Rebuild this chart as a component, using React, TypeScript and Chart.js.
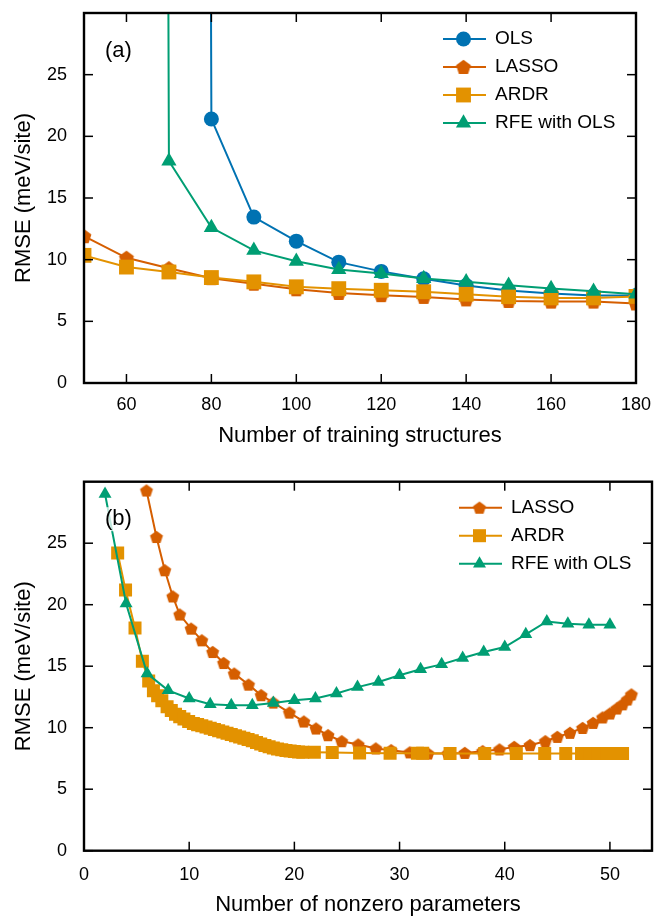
import React, { useEffect, useRef } from 'react';
import { Chart, registerables } from 'chart.js';

Chart.register(...registerables);

const FONT = "'Liberation Sans', Arial, Helvetica, sans-serif";
const C_OLS = '#0072B2';
const C_LASSO = '#D55E00';
const C_ARDR = '#E39200';
const C_RFE = '#009E73';

// ---------- panel (a): RMSE vs number of training structures ----------
const trainSizes = [50, 60, 70, 80, 90, 100, 110, 120, 130, 140, 150, 160, 170, 180];
const olsTrain = [null, null, 1000, 21.4, 13.45, 11.5, 9.8, 9.05, 8.45, 7.9, 7.5, 7.25, 7.1, 7.1];
const lassoTrain = [11.9, 10.15, 9.3, 8.5, 8.05, 7.6, 7.3, 7.12, 6.98, 6.78, 6.65, 6.6, 6.6, 6.45];
const ardrTrain = [10.35, 9.4, 9.0, 8.55, 8.2, 7.8, 7.65, 7.52, 7.4, 7.2, 7.0, 6.9, 6.9, 7.02];
const rfeTrain = [null, 1000, 18.0, 12.6, 10.75, 9.87, 9.2, 8.87, 8.47, 8.2, 7.93, 7.66, 7.44, 7.2];

// ---------- panel (b): RMSE vs number of nonzero parameters ----------
const lassoN = [5.94, 6.89, 7.68, 8.44, 9.1, 10.18, 11.2, 12.23, 13.27, 14.28, 15.64, 16.84, 18.0, 19.53, 20.9, 22.06, 23.2, 24.5, 26.07, 27.74, 29.2, 30.97, 32.7, 34.6, 36.2, 37.9, 39.5, 40.9, 42.4, 43.86, 45.0, 46.2, 47.4, 48.4, 49.3, 50.0, 50.65, 51.2, 51.66, 52.04];
const lassoRmse = [29.28, 25.5, 22.8, 20.67, 19.2, 18.05, 17.1, 16.15, 15.26, 14.4, 13.5, 12.64, 12.04, 11.23, 10.5, 9.93, 9.39, 8.9, 8.63, 8.31, 8.17, 7.99, 7.9, 7.9, 7.95, 8.09, 8.23, 8.44, 8.58, 8.9, 9.25, 9.58, 9.98, 10.39, 10.83, 11.15, 11.56, 11.9, 12.29, 12.7];
const ardrN = [3.2, 3.95, 4.85, 5.55, 6.15, 6.6, 7.0, 7.4, 7.9, 8.3, 8.7, 9.1, 9.5, 9.95, 10.4, 10.8, 11.2, 11.6, 12.0, 12.4, 12.8, 13.2, 13.6, 14.0, 14.4, 14.8, 15.2, 15.6, 16.0, 16.4, 16.8, 17.2, 17.6, 18.0, 18.4, 18.8, 19.2, 19.6, 20.0, 20.4, 20.8, 21.9, 23.6, 26.2, 29.1, 31.7, 32.2, 34.8, 38.1, 41.1, 43.8, 45.8, 47.3, 47.7, 48.1, 48.5, 48.9, 49.3, 49.7, 50.1, 50.5, 50.9, 51.2];
const ardrRmse = [24.2, 21.2, 18.1, 15.4, 13.8, 13.0, 12.6, 12.2, 11.7, 11.4, 11.1, 10.9, 10.7, 10.5, 10.35, 10.25, 10.15, 10.05, 9.95, 9.85, 9.75, 9.65, 9.55, 9.45, 9.35, 9.25, 9.15, 9.05, 8.93, 8.8, 8.68, 8.56, 8.45, 8.35, 8.27, 8.2, 8.14, 8.1, 8.06, 8.03, 8.01, 8.0, 7.98, 7.95, 7.93, 7.92, 7.92, 7.9, 7.9, 7.9, 7.9, 7.9, 7.9, 7.9, 7.9, 7.9, 7.9, 7.9, 7.9, 7.9, 7.9, 7.9, 7.9];
const rfeN = [2, 4, 6, 8, 10, 12, 14, 16, 18, 20, 22, 24, 26, 28, 30, 32, 34, 36, 38, 40, 42, 44, 46, 48, 50];
const rfeRmse = [29.0, 20.1, 14.4, 13.04, 12.37, 11.9, 11.83, 11.83, 12.0, 12.23, 12.37, 12.78, 13.3, 13.72, 14.26, 14.75, 15.15, 15.67, 16.15, 16.56, 17.59, 18.64, 18.46, 18.38, 18.38];

// ---------- tick values ----------
const rmseTicks = [0, 5, 10, 15, 20, 25];
const trainTicks = [60, 80, 100, 120, 140, 160, 180];
const nonzeroTicks = [0, 10, 20, 30, 40, 50];

function pentagon(color: string, r: number): HTMLCanvasElement {
  const size = Math.ceil(2 * r + 2);
  const c = document.createElement('canvas');
  c.width = size;
  c.height = size;
  const g = c.getContext('2d')!;
  g.fillStyle = color;
  g.beginPath();
  for (let i = 0; i < 5; i++) {
    const a = -Math.PI / 2 + (i * 2 * Math.PI) / 5;
    const px = size / 2 + r * Math.cos(a);
    const py = size / 2 + r * Math.sin(a) + r * 0.08;
    if (i === 0) g.moveTo(px, py);
    else g.lineTo(px, py);
  }
  g.closePath();
  g.fill();
  return c;
}

function drawMarker(ctx: CanvasRenderingContext2D, style: any, r: number, x: number, y: number, color: string) {
  ctx.save();
  ctx.fillStyle = color;
  if (style && typeof style === 'object') {
    ctx.drawImage(style, x - style.width / 2, y - style.height / 2);
  } else if (style === 'circle') {
    ctx.beginPath();
    ctx.arc(x, y, r, 0, Math.PI * 2);
    ctx.fill();
  } else if (style === 'rect') {
    const s = Math.SQRT1_2 * r;
    ctx.fillRect(x - s, y - s, 2 * s, 2 * s);
  } else if (style === 'triangle') {
    ctx.beginPath();
    let rad = 0;
    for (let i = 0; i < 3; i++) {
      const px = x + Math.sin(rad) * r;
      const py = y - Math.cos(rad) * r;
      if (i === 0) ctx.moveTo(px, py);
      else ctx.lineTo(px, py);
      rad += (2 * Math.PI) / 3;
    }
    ctx.closePath();
    ctx.fill();
  }
  ctx.restore();
}

const framePlugin: any = {
  id: 'frame',
  afterDraw(chart: any, _args: any, opts: any) {
    const { ctx, chartArea: a, scales } = chart;
    ctx.save();
    const seg = (x1: number, y1: number, x2: number, y2: number) => {
      ctx.beginPath();
      ctx.moveTo(x1, y1);
      ctx.lineTo(x2, y2);
      ctx.stroke();
    };
    // inward ticks on all four sides
    ctx.strokeStyle = '#000';
    ctx.lineWidth = 1.5;
    const tl = 9;
    scales.x.ticks.forEach((t: any) => {
      const p = scales.x.getPixelForValue(t.value);
      seg(p, a.bottom, p, a.bottom - tl);
      seg(p, a.top, p, a.top + tl);
    });
    scales.y.ticks.forEach((t: any) => {
      const p = scales.y.getPixelForValue(t.value);
      seg(a.left, p, a.left + tl, p);
      seg(a.right, p, a.right - tl, p);
    });
    // frame
    ctx.lineWidth = 2.4;
    ctx.strokeRect(a.left, a.top, a.right - a.left, a.bottom - a.top);

    // panel label
    ctx.font = `22px ${FONT}`;
    ctx.textAlign = 'left';
    ctx.textBaseline = 'middle';
    const lx = a.left + 21;
    const ly = a.top + 37.5;
    const w = ctx.measureText(opts.label).width;
    ctx.fillStyle = 'rgba(255,255,255,0.75)';
    ctx.fillRect(lx - 1, ly - 12, w + 2, 24);
    ctx.fillStyle = '#000';
    ctx.fillText(opts.label, lx, ly);

    // legend: line + marker + text
    chart.data.datasets.forEach((ds: any, i: number) => {
      const y = a.top + 26 + i * 28;
      const x1 = a.right - 193;
      const x2 = a.right - 150;
      ctx.strokeStyle = ds.borderColor;
      ctx.lineWidth = 2;
      seg(x1, y, x2, y);
      drawMarker(ctx, ds.pointStyle, ds.pointRadius, (x1 + x2) / 2 - 1, y, ds.borderColor);
      ctx.fillStyle = '#000';
      ctx.font = `19px ${FONT}`;
      ctx.textAlign = 'left';
      ctx.textBaseline = 'middle';
      ctx.fillText(ds.label, a.right - 141, y);
    });
    ctx.restore();
  },
};

function zeroPad(s: any) {
  s.paddingTop = 0;
  s.paddingBottom = 0;
  s.paddingLeft = 0;
  s.paddingRight = 0;
}

function yScale(): any {
  return {
    type: 'linear',
    min: 0,
    max: 30,
    grid: { display: false, drawTicks: false },
    border: { display: false },
    afterBuildTicks: (s: any) => {
      s.ticks = rmseTicks.map((v) => ({ value: v }));
    },
    afterFit: (s: any) => {
      s.width = 84;
      zeroPad(s);
    },
    ticks: { font: { family: FONT, size: 18 }, color: '#000', padding: 17 },
    title: {
      display: true,
      text: 'RMSE (meV/site)',
      font: { family: FONT, size: 22 },
      color: '#000',
      padding: { top: 10.5, bottom: 0 },
    },
  };
}

function xScale(min: number, max: number, ticks: number[], height: number, tickPad: number, titlePad: number, title: string): any {
  return {
    type: 'linear',
    min,
    max,
    grid: { display: false, drawTicks: false },
    border: { display: false },
    afterBuildTicks: (s: any) => {
      s.ticks = ticks.map((v) => ({ value: v }));
    },
    afterFit: (s: any) => {
      s.height = height;
      zeroPad(s);
    },
    ticks: { font: { family: FONT, size: 18 }, color: '#000', padding: tickPad, maxRotation: 0, autoSkip: false },
    title: {
      display: true,
      text: title,
      font: { family: FONT, size: 22 },
      color: '#000',
      padding: { top: 0, bottom: titlePad },
    },
  };
}

function series(label: string, color: string, style: any, radius: number, data: any[], order: number) {
  return {
    label,
    data,
    order,
    borderColor: color,
    backgroundColor: color,
    pointBackgroundColor: color,
    pointBorderColor: color,
    pointBorderWidth: 0,
    pointStyle: style,
    pointRadius: radius,
    borderWidth: 2,
    tension: 0,
    spanGaps: false,
  };
}

const pairs = (xs: number[], ys: (number | null)[]) => xs.map((x, i) => ({ x, y: ys[i] }));

function buildTop(): any {
  return {
    type: 'line',
    data: {
      datasets: [
        series('OLS', C_OLS, 'circle', 7.5, pairs(trainSizes, olsTrain), 4),
        series('LASSO', C_LASSO, pentagon(C_LASSO, 7.8), 7.5, pairs(trainSizes, lassoTrain), 3),
        series('ARDR', C_ARDR, 'rect', 10.5, pairs(trainSizes, ardrTrain), 2),
        series('RFE with OLS', C_RFE, 'triangle', 8.8, pairs(trainSizes, rfeTrain), 1),
      ],
    },
    options: {
      responsive: false,
      maintainAspectRatio: false,
      animation: false,
      devicePixelRatio: 1,
      layout: { padding: { top: 13, right: 18, bottom: 0, left: 0 }, autoPadding: false },
      plugins: { legend: { display: false }, tooltip: { enabled: false }, frame: { label: '(a)' } },
      scales: {
        x: xScale(50, 180, trainTicks, 77, 11.5, 10.9, 'Number of training structures'),
        y: yScale(),
      },
    },
    plugins: [framePlugin],
  };
}

function buildBottom(): any {
  return {
    type: 'line',
    data: {
      datasets: [
        series('LASSO', C_LASSO, pentagon(C_LASSO, 6.8), 6.5, pairs(lassoN, lassoRmse), 3),
        series('ARDR', C_ARDR, 'rect', 9.2, pairs(ardrN, ardrRmse), 2),
        series('RFE with OLS', C_RFE, 'triangle', 7.5, pairs(rfeN, rfeRmse), 1),
      ],
    },
    options: {
      responsive: false,
      maintainAspectRatio: false,
      animation: false,
      devicePixelRatio: 1,
      layout: { padding: { top: 26.7, right: 2, bottom: 0, left: 0 }, autoPadding: false },
      plugins: { legend: { display: false }, tooltip: { enabled: false }, frame: { label: '(b)' } },
      scales: {
        x: xScale(0, 54, nonzeroTicks, 84.3, 14, 16.4, 'Number of nonzero parameters'),
        y: yScale(),
      },
    },
    plugins: [framePlugin],
  };
}

function ChartPanel({ top, height, build }: { top: number; height: number; build: () => any }) {
  const ref = useRef<HTMLCanvasElement>(null);
  useEffect(() => {
    const chart = new Chart(ref.current as HTMLCanvasElement, build());
    return () => chart.destroy();
  }, []);
  return (
    <canvas
      ref={ref}
      width={654}
      height={height}
      style={{ position: 'absolute', left: 0, top, width: 654, height, display: 'block' }}
    />
  );
}

export default function App() {
  return (
    <div
      style={{
        position: 'absolute',
        left: 0,
        top: 0,
        width: 654,
        height: 917,
        overflow: 'hidden',
        background: '#fff',
      }}
    >
      <ChartPanel top={0} height={460} build={buildTop} />
      <ChartPanel top={455} height={480} build={buildBottom} />
    </div>
  );
}
